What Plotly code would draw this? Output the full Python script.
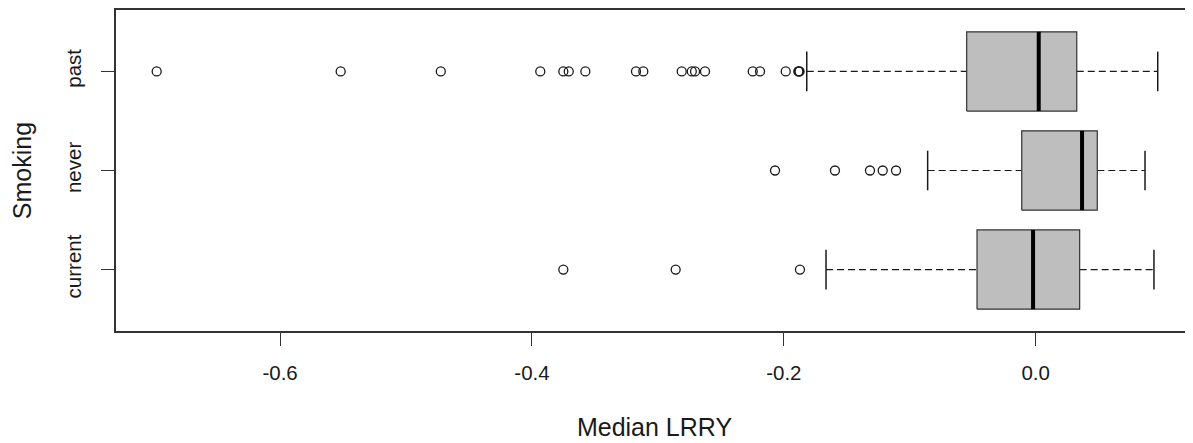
import plotly.graph_objects as go

# ---- data ----
categories = ["current", "never", "past"]
positions = [1, 2, 3]
q1 = [-0.0466, -0.0111, -0.0548]
median = [-0.0021, 0.0368, 0.0024]
q3 = [0.0349, 0.0489, 0.0326]
whisker_low = [-0.1665, -0.0858, -0.1818]
whisker_high = [0.0939, 0.0868, 0.0969]
outliers_current = [-0.3751, -0.2859, -0.1872]
outliers_never = [-0.2070, -0.1594, -0.1316, -0.1215, -0.1109]
outliers_past = [-0.6980, -0.5519, -0.4724, -0.3934, -0.3751, -0.3708, -0.3576,
                 -0.3174, -0.3116, -0.2811, -0.2731, -0.2705, -0.2626, -0.2247,
                 -0.2189, -0.1985, -0.1885, -0.1880, -0.1875]
outliers = [outliers_current, outliers_never, outliers_past]
x_ticks = [-0.6, -0.4, -0.2, 0.0]
x_tick_labels = ["-0.6", "-0.4", "-0.2", "0.0"]

BOXHALF = 0.4
CAPHALF = 0.2
LINE = "#1a1a1a"
FONT = "Liberation Sans, Arial, sans-serif"

fig = go.Figure()
for i, y in enumerate(positions):
    # dashed whiskers
    fig.add_trace(go.Scatter(
        x=[whisker_low[i], q1[i], None, q3[i], whisker_high[i]],
        y=[y, y, None, y, y], mode="lines",
        line=dict(color=LINE, width=1.2, dash="7px,4px"),
        hoverinfo="skip", showlegend=False))
    # whisker caps
    fig.add_trace(go.Scatter(
        x=[whisker_low[i], whisker_low[i], None, whisker_high[i], whisker_high[i]],
        y=[y - CAPHALF, y + CAPHALF, None, y - CAPHALF, y + CAPHALF], mode="lines",
        line=dict(color=LINE, width=1.5), hoverinfo="skip", showlegend=False))
    # box
    fig.add_trace(go.Scatter(
        x=[q1[i], q3[i], q3[i], q1[i], q1[i]],
        y=[y - BOXHALF, y - BOXHALF, y + BOXHALF, y + BOXHALF, y - BOXHALF],
        mode="lines", fill="toself", fillcolor="#BEBEBE",
        line=dict(color="#333333", width=1.2), hoverinfo="skip", showlegend=False))
    # median
    fig.add_trace(go.Scatter(
        x=[median[i], median[i]], y=[y - BOXHALF, y + BOXHALF], mode="lines",
        line=dict(color="black", width=4), hoverinfo="skip", showlegend=False))
    # outliers
    fig.add_trace(go.Scatter(
        x=outliers[i], y=[y] * len(outliers[i]), mode="markers",
        marker=dict(symbol="circle-open", size=9, color=LINE, line=dict(width=1.3)),
        hoverinfo="skip", showlegend=False))

fig.update_layout(
    width=1185, height=435,
    margin=dict(l=108, r=0, t=2, b=112),
    paper_bgcolor="white", plot_bgcolor="white",
    font=dict(family=FONT, size=20.5, color="#1a1a1a"),
    xaxis=dict(range=[-0.7303, 0.1249], tickvals=x_ticks, ticktext=x_tick_labels,
               ticks="outside", ticklen=13, tickwidth=1.2, tickcolor="#333333",
               showline=True, linecolor="#333333", linewidth=1.5, mirror=True,
               showgrid=False, zeroline=False, ticklabelstandoff=10,
               title=dict(text="Median LRRY", standoff=35)),
    yaxis=dict(range=[0.38, 3.62], tickvals=positions, ticktext=categories,
               tickangle=-90, ticks="outside", ticklen=13, tickwidth=1.2,
               tickcolor="#333333", showline=True, linecolor="#333333", linewidth=1.5,
               showgrid=False, zeroline=False, ticklabelstandoff=12,
               title=dict(text="Smoking", standoff=25)),
)

fig.write_html("out.html")
